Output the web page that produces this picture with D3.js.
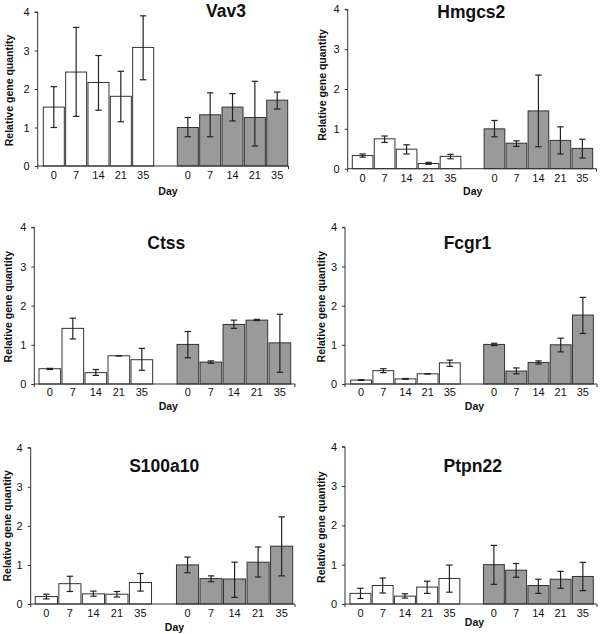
<!DOCTYPE html>
<html><head><meta charset="utf-8">
<script src="https://cdn.jsdelivr.net/npm/d3@7"></script>
<style>body{margin:0;background:#fff}svg{display:block}text{font-family:"Liberation Sans",Arial,sans-serif;fill:#111}</style>
</head><body>
<svg id="c" width="600" height="634"></svg>
<script>
const days = ["0","7","14","21","35"];
const yTicks = [0,1,2,3,4];
const genes = ["Vav3","Hmgcs2","Ctss","Fcgr1","S100a10","Ptpn22"];
// values per gene: white group (first), gray group (second)
const whiteVals = {
  Vav3:   [1.53,2.44,2.17,1.81,3.08],
  Hmgcs2: [0.33,0.75,0.49,0.13,0.31],
  Ctss:   [0.39,1.42,0.29,0.72,0.62],
  Fcgr1:  [0.10,0.34,0.13,0.26,0.54],
  S100a10:[0.19,0.52,0.26,0.25,0.55],
  Ptpn22: [0.27,0.47,0.20,0.43,0.65]
};
const whiteHi = {
  Vav3:   [2.06,3.60,2.87,2.46,3.90],
  Hmgcs2: [0.37,0.82,0.60,0.16,0.36],
  Ctss:   [0.40,1.68,0.37,0.72,0.91],
  Fcgr1:  [0.11,0.39,0.14,0.26,0.61],
  S100a10:[0.25,0.71,0.33,0.32,0.78],
  Ptpn22: [0.40,0.66,0.26,0.58,0.99]
};
const whiteLo = {
  Vav3:   [1.00,1.29,1.45,1.15,2.24],
  Hmgcs2: [0.29,0.66,0.37,0.11,0.25],
  Ctss:   [0.37,1.15,0.22,0.72,0.35],
  Fcgr1:  [0.09,0.29,0.12,0.26,0.45],
  S100a10:[0.13,0.32,0.20,0.18,0.33],
  Ptpn22: [0.14,0.28,0.15,0.27,0.30]
};
const grayVals = {
  Vav3:   [1.00,1.33,1.53,1.26,1.71],
  Hmgcs2: [1.00,0.64,1.45,0.71,0.51],
  Ctss:   [1.01,0.56,1.52,1.63,1.05],
  Fcgr1:  [1.01,0.33,0.55,1.00,1.76],
  S100a10:[1.00,0.65,0.64,1.07,1.48],
  Ptpn22: [1.00,0.86,0.47,0.63,0.70]
};
const grayHi = {
  Vav3:   [1.26,1.90,1.88,2.20,1.92],
  Hmgcs2: [1.21,0.70,2.35,1.05,0.74],
  Ctss:   [1.34,0.59,1.63,1.65,1.78],
  Fcgr1:  [1.04,0.41,0.59,1.17,2.21],
  S100a10:[1.20,0.72,1.07,1.46,2.23],
  Ptpn22: [1.49,1.03,0.63,0.83,1.06]
};
const grayLo = {
  Vav3:   [0.76,0.76,1.17,0.52,1.48],
  Hmgcs2: [0.80,0.56,0.55,0.37,0.27],
  Ctss:   [0.67,0.53,1.42,1.62,0.30],
  Fcgr1:  [0.98,0.26,0.51,0.82,1.29],
  S100a10:[0.80,0.57,0.17,0.69,0.72],
  Ptpn22: [0.50,0.68,0.27,0.40,0.34]
};

// layout per panel
const layout = {
  Vav3:   {ax:37.7, top:12,    bot:166, bL:43.3,  bR:287.7, aEnd:288.5, tx:226,   ty:17,  tickY:178.5, dayX:168,   dayY:195, ylx:12.5,  yly:90.5},
  Hmgcs2: {ax:347.7,top:9.3,   bot:168.7,bL:352.3,bR:592.7, aEnd:596.5, tx:471.3, ty:18,  tickY:181.5, dayX:472.7, dayY:195, ylx:326,   yly:85},
  Ctss:   {ax:34.3, top:227.3, bot:384, bL:39,    bR:290.7, aEnd:295,   tx:166.3, ty:249, tickY:395.5, dayX:168.3, dayY:409.5, ylx:11.5, yly:306.7},
  Fcgr1:  {ax:345,  top:227.3, bot:384, bL:350.7, bR:593.3, aEnd:597,   tx:467.5, ty:249, tickY:396,   dayX:474.5, dayY:409.5, ylx:325,  yly:306.7},
  S100a10:{ax:30.7, top:447.7, bot:604, bL:35.3,  bR:292.7, aEnd:295,   tx:164.2, ty:471.5,tickY:617.3, dayX:174.5, dayY:631,  ylx:10.7, yly:525.8},
  Ptpn22: {ax:345,  top:446.7, bot:604, bL:350,   bR:593.3, aEnd:597,   tx:472.8, ty:472, tickY:617,   dayX:474.5, dayY:626,  ylx:325,  yly:527.2}
};

const svg = d3.select("#c");
const slots = d3.range(11);

genes.forEach(g => {
  const L = layout[g];
  const gEl = svg.append("g");
  const y = d3.scaleLinear().domain([0,4]).range([L.bot, L.top]);
  const x = d3.scaleBand().domain(slots).range([L.bL, L.bR]).paddingInner(0.06).paddingOuter(0);
  const rows = [];
  days.forEach((d,i) => rows.push({slot:i, day:d, v:whiteVals[g][i], hi:whiteHi[g][i], lo:whiteLo[g][i], fill:"#ffffff"}));
  days.forEach((d,i) => rows.push({slot:i+6, day:d, v:grayVals[g][i], hi:grayHi[g][i], lo:grayLo[g][i], fill:"#9a9a9a"}));

  // bars
  gEl.selectAll("rect.bar").data(rows).join("rect")
    .attr("x", d => x(d.slot)).attr("width", x.bandwidth())
    .attr("y", d => y(d.v)).attr("height", d => y(0) - y(d.v))
    .attr("fill", d => d.fill).attr("stroke", "#333").attr("stroke-width", 1);

  // error bars
  const cap = 3.2;
  const eb = gEl.selectAll("g.eb").data(rows).join("g").attr("stroke", "#222").attr("stroke-width", 1.2);
  eb.append("line").attr("x1", d => x(d.slot)+x.bandwidth()/2).attr("x2", d => x(d.slot)+x.bandwidth()/2)
    .attr("y1", d => y(d.hi)).attr("y2", d => y(d.lo));
  eb.append("line").attr("x1", d => x(d.slot)+x.bandwidth()/2-cap).attr("x2", d => x(d.slot)+x.bandwidth()/2+cap)
    .attr("y1", d => y(d.hi)).attr("y2", d => y(d.hi));
  eb.append("line").attr("x1", d => x(d.slot)+x.bandwidth()/2-cap).attr("x2", d => x(d.slot)+x.bandwidth()/2+cap)
    .attr("y1", d => y(d.lo)).attr("y2", d => y(d.lo));

  // y axis
  const yAxis = d3.axisLeft(y).tickValues(yTicks).tickSize(3).tickPadding(5).tickFormat(d3.format("d"));
  const ya = gEl.append("g").attr("transform", `translate(${L.ax},0)`).call(yAxis);
  ya.select(".domain").attr("stroke", "#333").attr("d", `M-3,${L.top}H0V${L.bot}`);
  ya.selectAll(".tick line").attr("stroke", "#333");
  ya.selectAll(".tick text").attr("font-size", 11).attr("font-family", "Liberation Sans, Arial, sans-serif").attr("fill", "#111");

  // x axis line with end ticks
  gEl.append("path").attr("d", `M${L.ax},${L.bot}H${L.aEnd}V${L.bot+3}`).attr("fill","none").attr("stroke","#333");
  gEl.append("path").attr("d", `M${L.ax},${L.bot}V${L.bot+3}`).attr("fill","none").attr("stroke","#333");

  // x tick labels
  gEl.selectAll("text.xl").data(rows).join("text")
    .attr("x", d => x(d.slot)+x.bandwidth()/2).attr("y", L.tickY)
    .attr("text-anchor","middle").attr("font-size", 11).text(d => d.day);

  // Day label
  gEl.append("text").attr("x", L.dayX).attr("y", L.dayY).attr("text-anchor","middle")
    .attr("font-size", 10.5).attr("font-weight","bold").text("Day");

  // y label
  gEl.append("text").attr("transform", `translate(${L.ylx},${L.yly}) rotate(-90)`).attr("text-anchor","middle")
    .attr("font-size", 10.5).attr("font-weight","bold").text("Relative gene quantity");

  // title
  gEl.append("text").attr("x", L.tx).attr("y", L.ty).attr("text-anchor","middle")
    .attr("font-size", 17.5).attr("font-weight","bold").text(g);
});
</script>
</body></html>
